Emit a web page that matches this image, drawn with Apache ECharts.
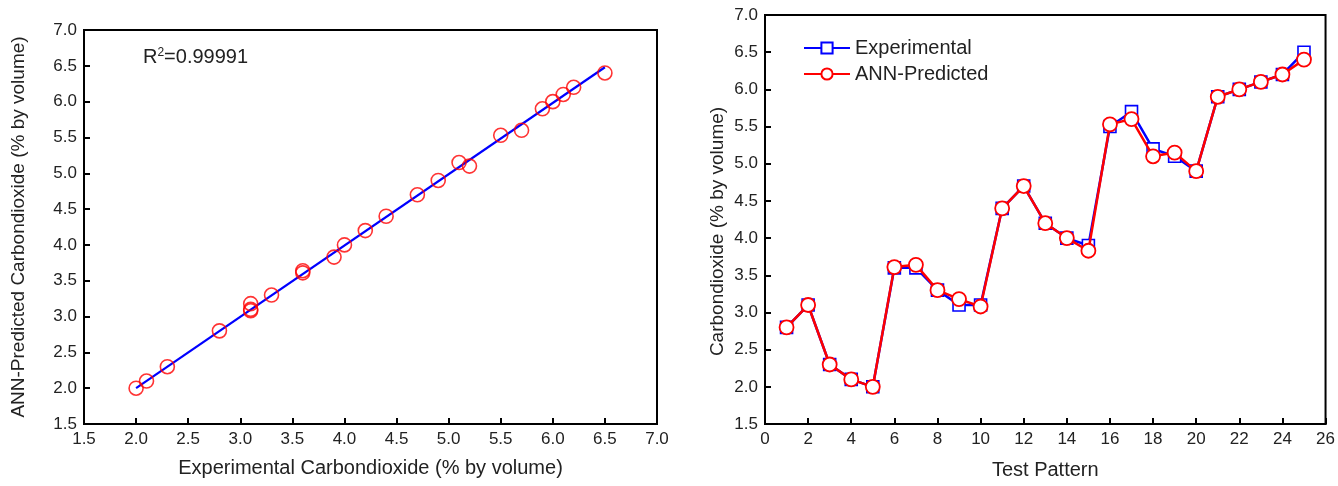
<!DOCTYPE html>
<html>
<head>
<meta charset="utf-8">
<script src="https://cdn.jsdelivr.net/npm/echarts@6/dist/echarts.min.js"></script>
<style>
html,body{margin:0;padding:0;background:#fff;}
#chart{width:1338px;height:486px;}
</style>
</head>
<body>
<div id="chart"></div>
<script>
// Test pattern numbers
const testPatterns = [1,2,3,4,5,6,7,8,9,10,11,12,13,14,15,16,17,18,19,20,21,22,23,24,25];
// Experimental CO2 (% by volume)
const experimental = [2.8,3.1,2.3,2.1,2.0,3.6,3.6,3.3,3.1,3.1,4.4,4.7,4.2,4.0,3.9,5.5,5.7,5.2,5.1,4.9,5.9,6.0,6.1,6.2,6.5];
// ANN-predicted CO2 (% by volume)
const annPredicted = [2.8,3.1,2.3,2.1,2.0,3.61,3.64,3.3,3.18,3.08,4.4,4.7,4.2,4.0,3.83,5.53,5.6,5.1,5.15,4.9,5.9,6.0,6.1,6.2,6.4];
// Fitted line end points
const fitX = [2.0, 6.5];
const fitY = [2.0, 6.48];
const r2Text = '0.99991';

const font = 'Liberation Sans, Arial, sans-serif';
const tickFmt = v => v.toFixed(1);

const scatterData = experimental.map((x, i) => [x, annPredicted[i]]);
const fitData = fitX.map((x, i) => [x, fitY[i]]);
const expData = testPatterns.map((t, i) => [t, experimental[i]]);
const annData = testPatterns.map((t, i) => [t, annPredicted[i]]);

const axisLine = {show: true, lineStyle: {color: '#000', width: 2}};
const axisTick = {show: true, inside: true, length: 6, lineStyle: {color: '#000', width: 2}};
const axisLabel = {color: '#222', fontSize: 17, fontFamily: font, margin: 7};
const nameStyle = {color: '#222', fontSize: 20, fontFamily: font};
const yNameStyle = {color: '#222', fontSize: 19, fontFamily: font};

const chart = echarts.init(document.getElementById('chart'));
chart.setOption({
  animation: false,
  backgroundColor: '#fff',
  grid: [
    {left: 84, right: 681, top: 30, bottom: 62, show: true, borderColor: '#000', borderWidth: 2, containLabel: false},
    {left: 765, right: 12, top: 15, bottom: 62, show: true, borderColor: '#000', borderWidth: 2, containLabel: false}
  ],
  xAxis: [
    {type: 'value', gridIndex: 0, min: 1.5, max: 7.0, interval: 0.5,
     axisLine, axisTick, splitLine: {show: false},
     axisLabel: Object.assign({}, axisLabel, {formatter: tickFmt}),
     name: 'Experimental Carbondioxide (% by volume)', nameLocation: 'middle', nameGap: 34, nameTextStyle: nameStyle},
    {type: 'value', gridIndex: 1, min: 0, max: 26, interval: 2,
     axisLine, axisTick, splitLine: {show: false},
     axisLabel: axisLabel,
     name: 'Test Pattern', nameLocation: 'middle', nameGap: 36, nameTextStyle: nameStyle}
  ],
  yAxis: [
    {type: 'value', gridIndex: 0, min: 1.5, max: 7.0, interval: 0.5,
     axisLine, axisTick, splitLine: {show: false},
     axisLabel: Object.assign({}, axisLabel, {formatter: tickFmt}),
     name: 'ANN-Predicted Carbondioxide (% by volume)', nameLocation: 'middle', nameGap: 56, nameTextStyle: yNameStyle},
    {type: 'value', gridIndex: 1, min: 1.5, max: 7.0, interval: 0.5,
     axisLine, axisTick, splitLine: {show: false},
     axisLabel: Object.assign({}, axisLabel, {formatter: tickFmt}),
     name: 'Carbondioxide (% by volume)', nameLocation: 'middle', nameGap: 38,
     nameTextStyle: Object.assign({}, yNameStyle, {padding: [0, 24, 0, 0]})}
  ],
  legend: {
    left: 798, top: 33, orient: 'vertical', itemGap: 6, itemWidth: 46, itemHeight: 14,
    textStyle: {color: '#222', fontSize: 20, fontFamily: font},
    data: ['Experimental', 'ANN-Predicted']
  },
  graphic: [{
    type: 'text', left: 143, top: 47,
    style: {
      text: '{a|R}{s|2}{a|=' + r2Text + '}',
      rich: {
        a: {fontSize: 20, fontFamily: font, fill: '#222', verticalAlign: 'bottom'},
        s: {fontSize: 12, fontFamily: font, fill: '#222', verticalAlign: 'top'}
      }
    }
  }],
  series: [
    {type: 'line', name: 'fit', xAxisIndex: 0, yAxisIndex: 0, data: fitData,
     showSymbol: false, lineStyle: {color: '#0000ff', width: 2.2}, z: 2},
    {type: 'scatter', name: 'scatter', xAxisIndex: 0, yAxisIndex: 0, data: scatterData,
     symbol: 'circle', symbolSize: 14,
     itemStyle: {color: 'rgba(0,0,0,0)', borderColor: '#ff0000', borderWidth: 1.6}, z: 3},
    {type: 'line', name: 'Experimental', xAxisIndex: 1, yAxisIndex: 1, data: expData,
     symbol: 'rect', symbolSize: 12, showAllSymbol: true,
     lineStyle: {color: '#0000ff', width: 2.5},
     itemStyle: {color: '#fff', borderColor: '#0000ff', borderWidth: 1.6}, z: 2},
    {type: 'line', name: 'ANN-Predicted', xAxisIndex: 1, yAxisIndex: 1, data: annData,
     symbol: 'circle', symbolSize: 14, showAllSymbol: true,
     lineStyle: {color: '#ff0000', width: 2.5},
     itemStyle: {color: '#fff', borderColor: '#ff0000', borderWidth: 1.8}, z: 3}
  ]
});
</script>
</body>
</html>
